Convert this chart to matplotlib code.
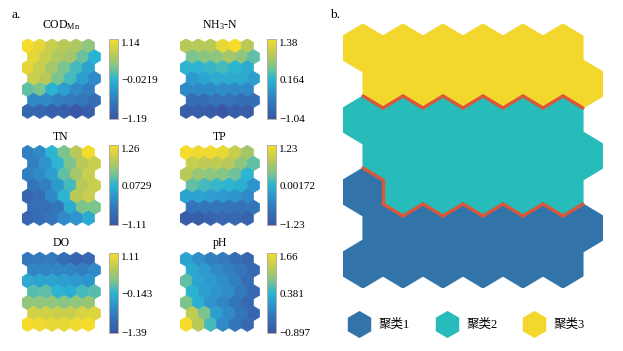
import numpy as np
import matplotlib
matplotlib.use('Agg')
import matplotlib.pyplot as plt
from matplotlib.collections import PolyCollection, LineCollection
from matplotlib.colors import LinearSegmentedColormap
from matplotlib.lines import Line2D

plt.rcParams['font.family'] = ['Liberation Serif', 'Noto Sans CJK SC', 'DejaVu Sans']
plt.rcParams['mathtext.fontset'] = 'custom'
plt.rcParams['mathtext.rm'] = 'Liberation Serif'
plt.rcParams['mathtext.it'] = 'Liberation Serif:italic'

# 各指标的 SOM 组分平面 (7 行 x 6 列, 第 0 行在最上面, 奇数行向右错开半格)
cod = [[1.14, 1.02, 0.79, 0.67, 0.63, 0.44],
       [1.02, 0.79, 0.63, 0.56, 0.25, -0.03],
       [1.02, 0.79, 0.56, 0.32, 0.09, -0.21],
       [0.79, 0.67, 0.32, 0.09, -0.26, -0.49],
       [0.21, 0.32, -0.03, -0.26, -0.49, -0.61],
       [-0.49, -0.49, -0.61, -0.68, -0.72, -0.84],
       [-0.96, -0.96, -1.07, -1.07, -1.19, -1.07]]
nh3 = [[0.90, 0.90, 0.90, 1.26, 1.38, 0.90],
       [0.53, 0.61, 0.65, 0.78, 0.65, 0.41],
       [0.17, 0.17, 0.22, 0.29, 0.17, 0.05],
       [-0.12, -0.02, 0.05, 0.05, 0.05, -0.07],
       [-0.31, -0.31, -0.31, -0.27, -0.31, -0.31],
       [-0.68, -0.68, -0.60, -0.60, -0.68, -0.68],
       [-0.92, -0.92, -0.92, -1.04, -0.92, -0.92]]
tn = [[-0.52, -0.40, 0.08, 0.43, 0.79, 1.26],
      [-0.52, -0.28, 0.08, 0.43, 0.79, 0.90],
      [-0.52, -0.40, -0.16, 0.31, 0.67, 0.90],
      [-0.64, -0.52, -0.21, 0.19, 0.79, 0.90],
      [-0.87, -0.75, -0.40, 0.08, 0.79, 0.90],
      [-0.75, -0.75, -0.64, -0.04, 0.43, 0.43],
      [-0.87, -0.75, -0.64, -0.40, -0.28, -0.04]]
tp = [[1.23, 1.18, 1.18, 1.11, 0.86, 0.62],
      [0.86, 0.79, 0.79, 0.74, 0.49, 0.25],
      [0.74, 0.54, 0.49, 0.44, 0.30, 0.00],
      [0.25, 0.12, 0.05, 0.00, -0.05, -0.37],
      [-0.20, -0.20, -0.25, -0.30, -0.37, -0.49],
      [-0.74, -0.74, -0.74, -0.74, -0.79, -0.74],
      [-1.11, -1.11, -1.03, -0.98, -0.98, -1.03]]
do = [[-0.89, -0.84, -0.84, -1.02, -1.14, -1.09],
      [-0.69, -0.69, -0.69, -0.69, -0.77, -0.64],
      [-0.27, -0.34, -0.34, -0.39, -0.44, -0.52],
      [0.06, 0.11, -0.14, -0.19, -0.02, 0.06],
      [0.36, 0.36, 0.36, 0.31, 0.36, 0.41],
      [0.81, 0.81, 0.74, 0.74, 0.86, 0.91],
      [1.11, 1.06, 0.99, 0.99, 1.06, 1.11]]
ph = [[0.18, -0.08, -0.26, -0.33, -0.51, -0.64],
      [0.25, 0.07, -0.13, -0.26, -0.39, -0.59],
      [0.64, 0.18, 0.07, -0.08, -0.26, -0.51],
      [0.38, 0.13, 0.00, -0.08, -0.33, -0.59],
      [0.77, 0.33, 0.00, -0.18, -0.39, -0.59],
      [1.20, 0.77, 0.13, -0.13, -0.39, -0.64],
      [1.66, 1.15, 0.51, -0.13, -0.39, -0.59]]

names = ['COD$_{\\mathrm{Mn}}$', 'NH$_{3}$-N', 'TN', 'TP', 'DO', 'pH']
planes = [cod, nh3, tn, tp, do, ph]
cbar_ticks = [[-1.19, -0.0219, 1.14], [-1.04, 0.164, 1.38], [-1.11, 0.0729, 1.26],
              [-1.23, 0.00172, 1.23], [-1.39, -0.143, 1.11], [-0.897, 0.381, 1.66]]

# 聚类结果
clusters = [[3, 3, 3, 3, 3, 3],
            [3, 3, 3, 3, 3, 3],
            [2, 2, 2, 2, 2, 2],
            [2, 2, 2, 2, 2, 2],
            [1, 2, 2, 2, 2, 2],
            [1, 1, 1, 1, 1, 1],
            [1, 1, 1, 1, 1, 1]]
cluster_names = ['聚类1', '聚类2', '聚类3']
cluster_colors = {1: '#3274a9', 2: '#27bcba', 3: '#f3d72d'}
border_color = '#da573a'

cmap = LinearSegmentedColormap.from_list('parula_like', [
    (0.0, '#3a57a5'), (0.2, '#3376bb'), (0.35, '#2e94cd'), (0.5, '#2bb4d2'),
    (0.65, '#7cc48e'), (0.8, '#b8c95a'), (1.0, '#f5dc2b')])

W, H = 623, 351
R = 1 / np.sqrt(3)
nrow, ncol = 7, 6


def hex_polys():
    polys = []
    for r in range(nrow):
        for c in range(ncol):
            cx = c + 0.5 * (r % 2)
            cy = -1.5 * R * r
            a = np.deg2rad(30 + 60 * np.arange(6))
            polys.append(np.c_[cx + R * np.cos(a), cy + R * np.sin(a)])
    return polys


def px_axes(fig, x0, y0, x1, y1):
    return fig.add_axes([x0 / W, 1 - y1 / H, (x1 - x0) / W, (y1 - y0) / H])


def setup_hex_ax(ax):
    ax.set_xlim(-0.5, ncol)
    ax.set_ylim(-1.5 * R * (nrow - 1) - R, R)
    ax.axis('off')


fig = plt.figure(figsize=(W / 100, H / 100), dpi=100)
polys = hex_polys()

# a. 组分平面
grid_x = [(21.5, 100.5), (180.0, 259.5)]
cbar_x = [(109.0, 118.0), (267.0, 276.0)]
grid_y = [(38.7, 118.5), (145.3, 225.5), (252.0, 331.5)]
cbar_y = [(39.3, 119.0), (145.3, 225.0), (253.0, 333.0)]
title_gap = [7.5, 4.0, 4.0]

for i, (name, vals, ticks) in enumerate(zip(names, planes, cbar_ticks)):
    row, col = divmod(i, 2)
    ax = px_axes(fig, grid_x[col][0], grid_y[row][0], grid_x[col][1], grid_y[row][1])
    setup_hex_ax(ax)
    pc = PolyCollection(polys, array=np.ravel(vals), cmap=cmap, linewidths=0.5)
    pc.set_clim(ticks[0], ticks[-1])
    pc.update_scalarmappable()
    pc.set_edgecolor(pc.get_facecolor())
    ax.add_collection(pc)
    ax.annotate(name, xy=(0.5, 1), xycoords='axes fraction', xytext=(0, title_gap[row]),
                textcoords='offset points', ha='center', va='baseline', fontsize=8.5)

    cax = px_axes(fig, cbar_x[col][0], cbar_y[row][0], cbar_x[col][1], cbar_y[row][1])
    cb = fig.colorbar(pc, cax=cax)
    cb.set_ticks(ticks)
    cb.set_ticklabels([f'{t:g}'.replace('-', '\u2212') for t in ticks])
    cb.ax.tick_params(length=0, pad=2.5, labelsize=8)
    cb.outline.set_edgecolor('#b5ad9d')
    cb.outline.set_linewidth(0.7)
    labs = cb.ax.get_yticklabels()
    labs[-1].set_va('top')
    labs[0].set_va('center')

# b. 聚类结果
axb = px_axes(fig, 343, 24, 603, 288)
setup_hex_ax(axb)
flat = np.ravel(clusters)
fc = [cluster_colors[k] for k in flat]
axb.add_collection(PolyCollection(polys, facecolors=fc, edgecolors=fc, linewidths=0.8))

# 不同聚类之间的边界
edges = {}
for k, p in enumerate(polys):
    for j in range(6):
        a, b = p[j], p[(j + 1) % 6]
        key = tuple(sorted([tuple(np.round(a, 4)), tuple(np.round(b, 4))]))
        edges.setdefault(key, []).append(flat[k])
segs = [list(key) for key, cl in edges.items() if len(cl) == 2 and cl[0] != cl[1]]
axb.add_collection(LineCollection(segs, colors=border_color, linewidths=2.4,
                                  capstyle='round', zorder=3))

handles = [Line2D([], [], ls='', marker='h', markersize=19.5,
                  markerfacecolor=cluster_colors[k + 1], markeredgewidth=0)
           for k in range(3)]
fig.legend(handles, cluster_names, loc='center left', bbox_to_anchor=(349 / W, 1 - 325 / H),
           ncol=3, frameon=False, fontsize=9, handlelength=1.6, handletextpad=0.8,
           columnspacing=2.1, borderpad=0, borderaxespad=0)

fig.text(11 / W, 1 - 18.5 / H, 'a.', fontsize=9.5, ha='left', va='baseline')
fig.text(330 / W, 1 - 18.5 / H, 'b.', fontsize=9.5, ha='left', va='baseline')

fig.savefig('out.png', dpi=100)
